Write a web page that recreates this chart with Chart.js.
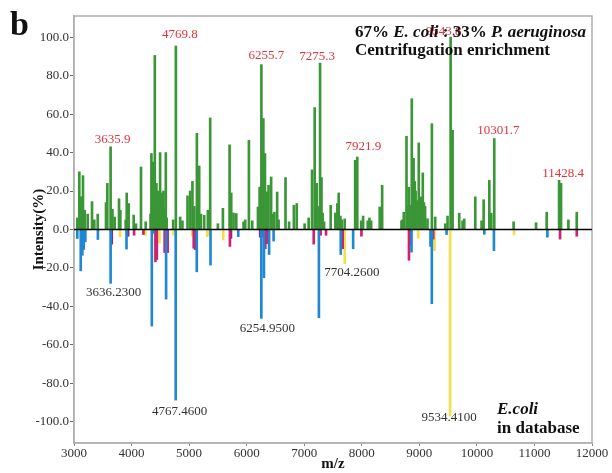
<!DOCTYPE html>
<html>
<head>
<meta charset="utf-8">
<script src="https://cdn.jsdelivr.net/npm/chart.js@4.4.1/dist/chart.umd.min.js"></script>
<style>
  html, body { margin: 0; padding: 0; background: #fff; }
  #wrap { width: 612px; height: 473px; }
</style>
</head>
<body>
<div id="wrap"><canvas id="spectrum" width="612" height="473"></canvas></div>
<script>
var SERIF = "'Liberation Serif', 'Times New Roman', serif";

// measured spectrum (positive side, m/z and relative intensity %)
var greenMz = [3057, 3092, 3122, 3156, 3186, 3238, 3313, 3353, 3412, 3556, 3579, 3635.9, 3668, 3707, 3782, 3805, 3898, 3916, 3950,
  4037, 4077, 4164, 4246, 4330, 4345, 4360, 4375, 4390, 4404, 4418, 4432, 4447, 4462, 4480, 4496, 4510, 4526, 4540, 4554, 4570,
  4595, 4610, 4723, 4769.8, 4844, 4884, 4972, 5018, 5058, 5090, 5135, 5175, 5205, 5262, 5326, 5366, 5500, 5587, 5703, 5732,
  5772, 5819, 5946, 5975, 6039, 6097, 6196, 6225, 6255.7, 6290, 6318, 6358, 6380, 6425, 6450, 6482, 6530, 6555, 6675, 6737,
  6820, 6870, 7007, 7077, 7136, 7182, 7217, 7245, 7275.3, 7300, 7320, 7345, 7460, 7541, 7576, 7599, 7628, 7651, 7703, 7885,
  7921.9, 7990, 8023, 8104, 8133, 8163, 8312, 8354, 8690, 8707, 8730, 8777, 8800, 8817, 8840, 8869, 8900, 8920, 8935, 8960,
  8990, 9025, 9040, 9060, 9080, 9100, 9142, 9218, 9276, 9450, 9490, 9543.8, 9578, 9693, 9751, 9780, 9972, 10082, 10117, 10216,
  10250, 10301.7, 10638, 11028, 11213, 11428.4, 11462, 11590, 11735];
var greenInt = [6, 30, 17, 28, 10, 8, 14.5, 5, 8, 14, 24, 43, 10.5, 6.5, 16, 10, 5, 19, 13.5,
  7.5, 3, 32.5, 4, 8, 39.5, 12, 35, 15, 90.5, 12, 24, 14, 20, 10, 40, 12, 19, 9, 20, 11,
  40, 6, 5, 95.4, 6.5, 4.5, 17.5, 20, 25, 12, 50, 33, 8, 7.4, 10, 58, 3, 11, 44, 19,
  8.6, 8.3, 4, 5, 46.4, 4.5, 11.7, 22, 85.7, 57.7, 39.5, 19.5, 23, 27.3, 8, 9, 19.5, 5, 27, 4,
  12.6, 13.5, 3, 6, 31, 63.4, 24, 12, 86.5, 27, 8.5, 4, 12.6, 8.6, 13.5, 19, 7, 5, 5.5, 36,
  37.7, 4.5, 7, 4.5, 6, 4.5, 11.7, 23, 4.5, 5, 9, 48.5, 12, 22, 12.6, 68, 37, 25, 20, 15,
  45, 17, 10, 29.4, 14, 12, 5.6, 55, 6.5, 3, 7, 100, 51.6, 8.5, 4.5, 5.5, 17, 4.5, 15.5, 25.6,
  8.5, 47.3, 4, 3.5, 9, 25.6, 24, 5, 9];

// database peaks (negative side), split by colour group
var blueMz = [3057, 3117, 3145, 3169, 3197, 3415, 3636.23, 3912, 4352, 4380, 4600, 4767.46, 5133, 5372, 5854, 6254.95, 6300,
  6390, 6468, 7255, 7635, 7850, 8864, 9194, 9217, 9473, 10129, 10296, 11225];
var blueInt = [-4.7, -21.5, -13.4, -10.4, -6.4, -5.2, -28, -10.2, -50.2, -2, -36.2, -88.7, -22, -18.5, -3.7, -46.2, -25.1,
  -13, -6, -45.9, -13, -10, -11.8, -8.8, -38.6, -2.6, -2.5, -11, -4];
var magentaMz = [4044, 4206, 4415, 4439, 4575, 4628, 5080, 5709, 6275, 6323, 6352, 7165, 7285, 7379, 7668, 7994, 8820, 9241,
  11445, 11735];
var magentaInt = [-3, -2.6, -16.8, -15.6, -12, -12, -9.7, -8.8, -4, -10, -7.4, -7.6, -3, -3, -10, -3.5, -16, -5, -5, -3.5];
var purpleMz = [3656, 3940, 5104, 5727, 6235, 8838];
var purpleInt = [-7.6, -3.5, -10.4, -4.6, -4, -8];
var yellowMz = [3800, 4241, 4485, 4730, 5056, 5314, 5343, 5593, 7704.26, 8980, 9264, 9534.41, 10645];
var yellowInt = [-3.8, -3, -7.1, -3, -3.4, -3.7, -3, -5.5, -17.8, -4.5, -11, -97, -2.8];

// labelled peaks
var expPeaks = [3635.9, 4769.8, 6255.7, 7275.3, 7921.9, 9543.8, 10301.7, 11428.4];
var dbPeaks = [3636.23, 4767.46, 6254.95, 7704.26, 9534.41];

var yTicks = [-100, -80, -60, -40, -20, 0, 20, 40, 60, 80, 100];

// label nudges in pixels (x, y)
var expNudgeX = [2, 4, 5, -3, 6, -7, 4, 4];
var expNudgeY = [7, 11, 9, 7, 10, 6, 8, 7];
var dbNudgeX = [3, 4, 6, 7, -1];
var dbNudgeY = [9, 11, 10, 9, 2];

function pts(xs, ys) {
  return xs.map(function (x, i) { return {x: x, y: ys[i]}; });
}

function series(xs, ys, color) {
  return {
    data: pts(xs, ys),
    backgroundColor: color,
    borderWidth: 0,
    barThickness: 2,
    grouped: false
  };
}

var allNegMz = blueMz.concat(magentaMz, purpleMz, yellowMz);
var allNegInt = blueInt.concat(magentaInt, purpleInt, yellowInt);

var decorations = {
  id: 'decorations',
  beforeDatasetsDraw: function (chart) {
    var a = chart.chartArea, ctx = chart.ctx;
    ctx.save();
    ctx.strokeStyle = '#b0b0b0';
    ctx.lineWidth = 1.5;
    ctx.strokeRect(a.left, a.top, a.right - a.left, a.bottom - a.top);
    ctx.restore();
  },
  afterDatasetsDraw: function (chart) {
    var ctx = chart.ctx, a = chart.chartArea;
    var xs = chart.scales.x, ys = chart.scales.y;
    ctx.save();
    // baseline at 0 %
    var y0 = ys.getPixelForValue(0);
    ctx.strokeStyle = '#000';
    ctx.lineWidth = 1.5;
    ctx.beginPath();
    ctx.moveTo(a.left, y0);
    ctx.lineTo(a.right, y0);
    ctx.stroke();

    ctx.textAlign = 'center';
    ctx.textBaseline = 'middle';
    ctx.font = '13px ' + SERIF;

    // experimental peak labels
    ctx.fillStyle = '#e0343c';
    expPeaks.forEach(function (mz, i) {
      var v = greenInt[greenMz.indexOf(mz)];
      ctx.fillText(mz.toFixed(1), xs.getPixelForValue(mz) + expNudgeX[i], ys.getPixelForValue(v) - expNudgeY[i]);
    });

    // database peak labels
    ctx.fillStyle = '#333';
    dbPeaks.forEach(function (mz, i) {
      var v = allNegInt[allNegMz.indexOf(mz)];
      ctx.fillText(mz.toFixed(4), xs.getPixelForValue(mz) + dbNudgeX[i], ys.getPixelForValue(v) + dbNudgeY[i]);
    });
    ctx.restore();
  },
  afterDraw: function (chart) {
    var ctx = chart.ctx;
    ctx.save();
    ctx.fillStyle = '#111';
    ctx.textBaseline = 'alphabetic';
    ctx.textAlign = 'left';

    // panel letter
    ctx.font = 'bold 34px ' + SERIF;
    ctx.fillText('b', 10, 35);

    // sample description, mixing bold and bold italic runs
    var runs = [['67% ', false], ['E. coli', true], [' : 33% ', false], ['P. aeruginosa', true]];
    var x = 355;
    runs.forEach(function (r) {
      ctx.font = (r[1] ? 'italic ' : '') + 'bold 17px ' + SERIF;
      ctx.fillText(r[0], x, 37);
      x += ctx.measureText(r[0]).width;
    });
    ctx.font = 'bold 17px ' + SERIF;
    ctx.fillText('Centrifugation enrichment', 355, 55);

    ctx.font = 'italic bold 17px ' + SERIF;
    ctx.fillText('E.coli', 497, 414);
    ctx.font = 'bold 17px ' + SERIF;
    ctx.fillText('in database', 497, 433);
    ctx.restore();
  }
};

new Chart(document.getElementById('spectrum'), {
  type: 'bar',
  data: {
    datasets: [
      series(greenMz, greenInt, '#3a9636'),
      series(blueMz, blueInt, '#1f88d4'),
      series(magentaMz, magentaInt, '#d0216f'),
      series(purpleMz, purpleInt, '#7b2d8c'),
      series(yellowMz, yellowInt, '#f3df4c')
    ]
  },
  options: {
    responsive: false,
    animation: false,
    layout: { padding: { left: 0, top: 16, right: 20, bottom: 0 } },
    plugins: { legend: { display: false }, tooltip: { enabled: false } },
    scales: {
      x: {
        type: 'linear',
        offset: false,
        min: 3000,
        max: 12000,
        afterFit: function (s) { s.height = 30; },
        ticks: {
          stepSize: 1000,
          autoSkip: false,
          maxRotation: 0,
          padding: 0,
          color: '#333',
          font: { family: SERIF, size: 13 },
          callback: function (v) { return String(v); }
        },
        grid: { offset: false, drawOnChartArea: false, drawTicks: true, tickLength: 3, color: '#888' },
        border: { color: '#b0b0b0', width: 1.5 },
        title: {
          display: true,
          text: 'm/z',
          color: '#111',
          padding: { top: 0, bottom: 0 },
          font: { family: SERIF, size: 15, weight: 'bold' }
        }
      },
      y: {
        min: -111,
        max: 111,
        afterFit: function (s) { s.width = 74; },
        afterBuildTicks: function (s) {
          s.ticks = yTicks.map(function (v) { return {value: v}; });
        },
        ticks: {
          padding: 1,
          color: '#333',
          font: { family: SERIF, size: 13 },
          callback: function (v) { return v.toFixed(1); }
        },
        grid: { drawOnChartArea: false, drawTicks: true, tickLength: 4, color: '#666' },
        border: { color: '#b0b0b0', width: 1.5 },
        title: {
          display: true,
          text: 'Intensity(%)',
          color: '#111',
          padding: { top: 30, bottom: 0 },
          font: { family: SERIF, size: 15, weight: 'bold' }
        }
      }
    }
  },
  plugins: [decorations]
});
</script>
</body>
</html>
